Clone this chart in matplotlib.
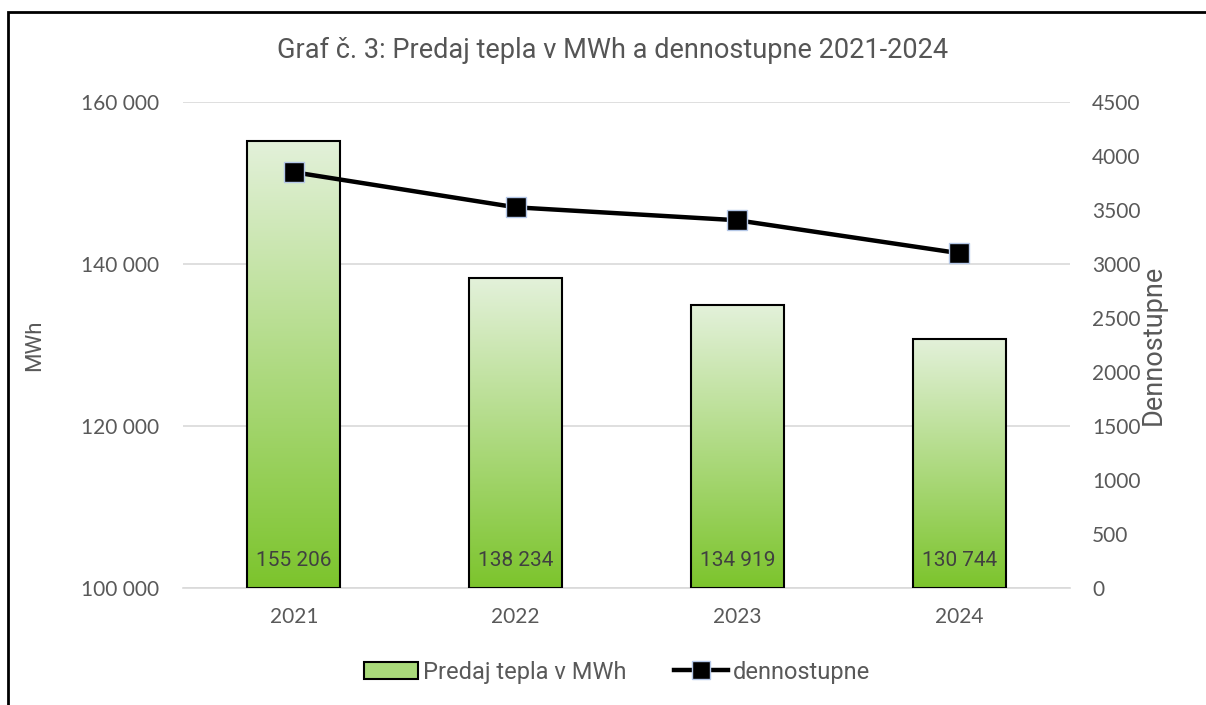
import matplotlib
matplotlib.use("Agg")
import matplotlib.pyplot as plt
import numpy as np
from matplotlib.patches import Rectangle
from matplotlib.lines import Line2D
from matplotlib.colors import LinearSegmentedColormap

years = ["2021", "2022", "2023", "2024"]
sales_mwh = [155206, 138234, 134919, 130744]
degree_days = [3850, 3525, 3405, 3100]
bar_labels = ["155 206", "138 234", "134 919", "130 744"]
left_ticks = [100000, 120000, 140000, 160000]
left_tick_labels = ["100 000", "120 000", "140 000", "160 000"]
right_ticks = list(range(0, 5000, 500))

NARROW = ['Roboto', 'DejaVu Sans']
TICKF = ['Lato', 'DejaVu Sans']
GRAY = '#595959'

fig = plt.figure(figsize=(12.06, 7.05), dpi=100)
ax = fig.add_axes([183/1206, 1-588/705, (1070-183)/1206, (588-102)/705])
ax2 = ax.twinx()

x = np.arange(len(years))
width = 0.42
bars = ax.bar(x, [v - 100000 for v in sales_mwh], width=width, bottom=100000,
              facecolor='none', edgecolor='black', linewidth=1.5, zorder=3)
cmap = LinearSegmentedColormap.from_list('g', ['#7cc42c', '#e3f1da'])
grad = np.linspace(0, 1, 256).reshape(-1, 1)
for b in bars:
    x0, y0 = b.get_x(), b.get_y()
    w, h = b.get_width(), b.get_height()
    im = ax.imshow(grad, cmap=cmap, aspect='auto', origin='lower',
                   extent=[x0, x0 + w, y0, y0 + h], zorder=2)
    im.set_clip_path(b)

for xi, lab in zip(x, bar_labels):
    ax.annotate(lab, (xi, 100000), xytext=(0, 20), textcoords='offset points',
                ha='center', va='center', fontsize=15, color='#404040',
                family=NARROW, zorder=5)

ax.set_xlim(-0.5, len(years) - 0.5)
ax.set_ylim(100000, 160000)
ax.set_yticks(left_ticks)
ax.set_yticklabels(left_tick_labels, family=TICKF, fontsize=15, color=GRAY)
ax.set_xticks(x)
ax.set_xticklabels(years, family=TICKF, fontsize=15, color=GRAY)
ax.tick_params(axis='y', length=0, pad=17)
ax.tick_params(axis='x', length=0, pad=14)
ax.grid(axis='y', color='#d9d9d9', linewidth=1.2, zorder=0)
ax.set_axisbelow(True)
for s in ax.spines.values():
    s.set_visible(False)
for s in ax2.spines.values():
    s.set_visible(False)
ax.spines['bottom'].set_visible(True)
ax.spines['bottom'].set_color('#d9d9d9')
ax.spines['bottom'].set_linewidth(1.2)

ax.set_ylabel("MWh", family=NARROW, fontsize=16, color=GRAY, labelpad=26)

ax2.plot(x, degree_days, color='black', linewidth=3.2, marker='s', markersize=15,
         markerfacecolor='black', markeredgecolor='#b4c7e7', markeredgewidth=1.0,
         zorder=5)
ax2.set_ylim(0, 4500)
ax2.set_yticks(right_ticks)
ax2.set_yticklabels([str(t) for t in right_ticks], family=TICKF, fontsize=15, color=GRAY)
ax2.tick_params(axis='y', length=0, pad=16)
ax2.set_ylabel("Dennostupne", family=NARROW, fontsize=19.5, color=GRAY, labelpad=-1)

fig.text(613/1206, 1-50/705, "Graf č. 3: Predaj tepla v MWh a dennostupne 2021-2024",
         ha='center', va='center', family=NARROW, fontsize=19.5, color='#555555')

h1 = Rectangle((0, 0), 1, 1, facecolor='#a9d97a', edgecolor='black', linewidth=1.5)
h2 = Line2D([0], [0], color='black', linewidth=3.2, marker='s', markersize=13,
            markerfacecolor='black', markeredgecolor='#b4c7e7', markeredgewidth=1.0)
leg = fig.legend([h1, h2], ["Predaj tepla v MWh", "dennostupne"],
                 loc='center', bbox_to_anchor=(617/1206, 1-672/705), ncol=2,
                 frameon=False, prop={'family': NARROW, 'size': 17},
                 handlelength=2.3, handleheight=0.7, columnspacing=2.0, handletextpad=0.2)
for t in leg.get_texts():
    t.set_color(GRAY)

fig.add_artist(Rectangle((8/1206, -0.05), 1.2, 1 - 12/705 + 0.05,
                         transform=fig.transFigure, fill=False,
                         edgecolor='black', linewidth=2.0))

fig.savefig("out.png", dpi=100)
